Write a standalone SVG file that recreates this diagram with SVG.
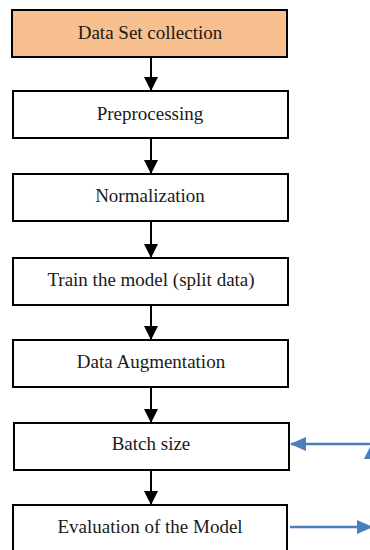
<svg xmlns="http://www.w3.org/2000/svg" width="370" height="550" viewBox="0 0 370 550">
<style>
.box{fill:#fff;stroke:#000;stroke-width:2}
.lbl{font-family:"Liberation Serif","Times New Roman","DejaVu Serif",serif;font-size:19px;fill:#1a1a1a;text-anchor:middle}
.arr{stroke:#000;stroke-width:2;fill:none}
.blue{stroke:#4a7ebf;stroke-width:2.5;fill:none}
</style>
<defs>
<marker id="ah" markerWidth="14" markerHeight="14" refX="13" refY="7" orient="auto" markerUnits="userSpaceOnUse" viewBox="0 0 14 14">
<path d="M0,0 L14,7 L0,14 Z" fill="#000"/>
</marker>
<marker id="bh" markerWidth="16" markerHeight="14" refX="15" refY="7" orient="auto" markerUnits="userSpaceOnUse" viewBox="0 0 16 14">
<path d="M0,0 L16,7 L0,14 Z" fill="#4a7ebf"/>
</marker>
</defs>
<g id="connectors">
<line class="arr" x1="151" y1="57" x2="151" y2="90" marker-end="url(#ah)"/>
<line class="arr" x1="151" y1="138" x2="151" y2="173" marker-end="url(#ah)"/>
<line class="arr" x1="151" y1="221" x2="151" y2="257" marker-end="url(#ah)"/>
<line class="arr" x1="151" y1="305" x2="151" y2="339" marker-end="url(#ah)"/>
<line class="arr" x1="151" y1="387" x2="151" y2="422" marker-end="url(#ah)"/>
<line class="arr" x1="151" y1="470" x2="151" y2="504" marker-end="url(#ah)"/>
<line class="blue" x1="370" y1="444" x2="291" y2="444" marker-end="url(#bh)"/>
<path d="M364,459 L370,447 L370,459 Z" fill="#4a7ebf"/>
<line class="blue" x1="290" y1="527" x2="372" y2="527" marker-end="url(#bh)"/>
</g>
<g id="n1"><rect x="12" y="10" width="275" height="47" fill="#f8c08e" stroke="#000" stroke-width="2"/><text class="lbl" x="150" y="39">Data Set collection</text></g>
<g id="n2"><rect class="box" x="13" y="91" width="275" height="47"/><text class="lbl" x="150" y="120">Preprocessing</text></g>
<g id="n3"><rect class="box" x="13" y="174" width="275" height="47"/><text class="lbl" x="150" y="202">Normalization</text></g>
<g id="n4"><rect class="box" x="13" y="258" width="275" height="47"/><text class="lbl" x="151" y="286">Train the model (split data)</text></g>
<g id="n5"><rect class="box" x="13" y="340" width="275" height="47"/><text class="lbl" x="151" y="368">Data Augmentation</text></g>
<g id="n6"><rect class="box" x="14" y="423" width="275" height="47"/><text class="lbl" x="151" y="450">Batch size</text></g>
<g id="n7"><rect class="box" x="13" y="505" width="274" height="50"/><text class="lbl" x="150" y="533">Evaluation of the Model</text></g>
</svg>
